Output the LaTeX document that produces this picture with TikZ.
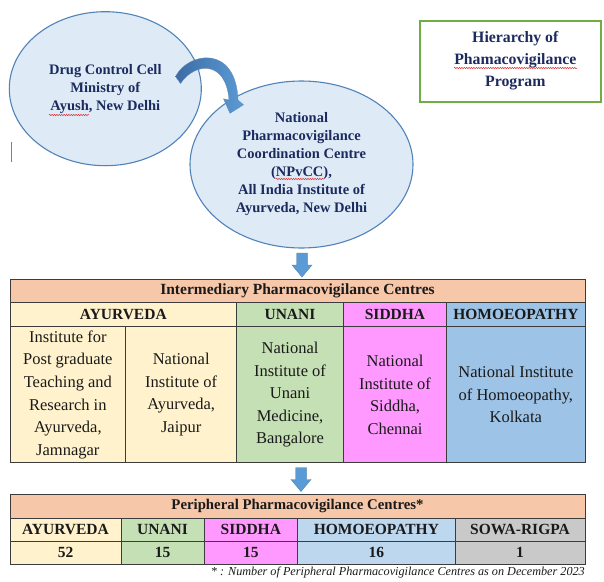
\documentclass[tikz,border=0pt]{standalone}
\usepackage{fontspec}
\setmainfont{Liberation Serif}
\usetikzlibrary{shapes.geometric,decorations.pathmorphing,calc}
\definecolor{ellfill}{HTML}{DEEBF7}
\definecolor{elldraw}{HTML}{5283B8}
\definecolor{navy}{HTML}{1C2A5E}
\definecolor{arrowblue}{HTML}{5B9BD5}
\definecolor{arrowdark}{HTML}{3D6CA3}
\definecolor{peach}{HTML}{F6C7A9}
\definecolor{ayur}{HTML}{FFF2CC}
\definecolor{unani}{HTML}{C5E0B4}
\definecolor{siddha}{HTML}{FF99FF}
\definecolor{homoeo}{HTML}{9DC3E6}
\definecolor{homoeolight}{HTML}{BDD7EE}
\definecolor{sowa}{HTML}{C9C9C9}
\definecolor{gridc}{HTML}{3C3C3C}
\definecolor{txt}{HTML}{1A1A1A}
\definecolor{titlegreen}{HTML}{70AD47}
\definecolor{squig}{HTML}{E03030}
\begin{document}
\begin{tikzpicture}[x=1pt,y=-1pt,
  oval/.style={ellipse, draw=elldraw, line width=1.1pt, fill=ellfill, inner sep=0pt,
    align=center, text=navy, font=\bfseries\fontsize{14.5}{18}\selectfont},
  cell/.style={draw=gridc, line width=0.8pt, inner sep=0pt, align=center, text=txt},
  headfont/.style={font=\bfseries\fontsize{15.5}{16}\selectfont},
  bodyfont/.style={font=\fontsize{16.5}{22.6}\selectfont},
  spell/.style={squig, line width=0.5pt, decorate, decoration={snake, amplitude=0.7pt, segment length=2.4pt}},
  downarr/.pic={\fill[arrowblue, draw=arrowblue!85!black, line width=0.4pt]
    (-5.3,-12) -- (5.3,-12) -- (5.3,0) -- (10,0) -- (0,12) -- (-10,0) -- (-5.3,0) -- cycle;}
]
\useasboundingbox (0,0) rectangle (604,581);

% title box
\node[draw=titlegreen, line width=2.5pt, minimum width=181, minimum height=81, inner sep=0pt] (titlebox) at (510.5,61.5) {};
\node[inner sep=0pt, align=center, text=navy, font=\bfseries\fontsize{15.8}{22}\selectfont] (title) at (515.3,60.5)
  {Hierarchy of\\Phamacovigilance\\Program};

% cursor mark
\draw[gray, line width=0.8pt] (11,142) -- (11,162);

% ellipses
\node[oval, minimum width=192, minimum height=154] (dcc) at (105.3,88.7)
  {Drug Control Cell\\Ministry of\\Ayush, New Delhi};
\node[oval, minimum width=223, minimum height=167] (npvcc) at (301.5,164.5)
  {National\\Pharmacovigilance\\Coordination Centre\\(NPvCC),\\All India Institute of\\Ayurveda, New Delhi};

% spell-check marks
\draw[spell] (49,115) -- (89,115);
\draw[spell] (276,179) -- (324,179);
\draw[spell] (454,68) -- (577,68);

% curved arrow
\shade[left color=arrowdark, right color=arrowblue, draw=arrowdark!80, line width=0.3pt]
  (175.5,76.5) .. controls (188,52) and (236,44) .. (238,100)
  -- (243.5,104.8) -- (230,113.3) -- (223.5,98.8) -- (229,100)
  .. controls (226,60) and (195,62) .. (180.5,83.5) -- cycle;

% table 1
\node[cell, fill=peach, headfont, minimum width=575, minimum height=23.4] (t1head) at (297.5,291)
  {Intermediary Pharmacovigilance Centres};
\node[cell, fill=ayur, headfont, minimum width=226.7, minimum height=24] (t1ayur) at (123.35,314.7) {AYURVEDA};
\node[cell, fill=unani, headfont, minimum width=106.6, minimum height=24] (t1unani) at (290,314.7) {UNANI};
\node[cell, fill=siddha, headfont, minimum width=103.4, minimum height=24] (t1siddha) at (395,314.7) {SIDDHA};
\node[cell, fill=homoeo, headfont, minimum width=138.3, minimum height=24] (t1homoeo) at (515.85,314.7) {HOMOEOPATHY};
\node[cell, fill=ayur, bodyfont, minimum width=115.7, minimum height=136] (ipgt) at (67.85,394.7)
  {Institute for\\Post graduate\\Teaching and\\Research in\\Ayurveda,\\Jamnagar};
\node[cell, fill=ayur, bodyfont, minimum width=111, minimum height=136] (nia) at (181.2,394.7)
  {National\\Institute of\\Ayurveda,\\Jaipur};
\node[cell, fill=unani, bodyfont, minimum width=106.6, minimum height=136] (nium) at (290,394.7)
  {National\\Institute of\\Unani\\Medicine,\\Bangalore};
\node[cell, fill=siddha, bodyfont, minimum width=103.4, minimum height=136] (nis) at (395,394.7)
  {National\\Institute of\\Siddha,\\Chennai};
\node[cell, fill=homoeo, bodyfont, minimum width=138.3, minimum height=136] (nih) at (515.85,394.7)
  {National Institute\\of Homoeopathy,\\Kolkata};

% table 2
\node[cell, fill=peach, font=\bfseries\fontsize{14.8}{16}\selectfont, minimum width=575, minimum height=24] (t2head) at (297.5,506.3)
  {Peripheral Pharmacovigilance Centres*};
\node[cell, fill=ayur, headfont, minimum width=111, minimum height=22.7] (t2ayur) at (65.5,529.65) {AYURVEDA};
\node[cell, fill=unani, headfont, minimum width=83, minimum height=22.7] (t2unani) at (162.5,529.65) {UNANI};
\node[cell, fill=siddha, headfont, minimum width=93.7, minimum height=22.7] (t2siddha) at (250.85,529.65) {SIDDHA};
\node[cell, fill=homoeolight, headfont, minimum width=157.3, minimum height=22.7] (t2homoeo) at (376.35,529.65) {HOMOEOPATHY};
\node[cell, fill=sowa, headfont, minimum width=130, minimum height=22.7] (t2sowa) at (520,529.65) {SOWA-RIGPA};
\node[cell, fill=ayur, headfont, minimum width=111, minimum height=23.3] (n1) at (65.5,552.65) {52};
\node[cell, fill=unani, headfont, minimum width=83, minimum height=23.3] (n2) at (162.5,552.65) {15};
\node[cell, fill=siddha, headfont, minimum width=93.7, minimum height=23.3] (n3) at (250.85,552.65) {15};
\node[cell, fill=homoeolight, headfont, minimum width=157.3, minimum height=23.3] (n4) at (376.35,552.65) {16};
\node[cell, fill=sowa, headfont, minimum width=130, minimum height=23.3] (n5) at (520,552.65) {1};

% down arrows
\pic at (302,265) {downarr};
\pic at (301,479.5) {downarr};

% footnote
\node[anchor=base east, inner sep=0pt, text=txt, font=\itshape\fontsize{12.2}{14}\selectfont] (fn) at (585,575)
  {* : Number of Peripheral Pharmacovigilance Centres as on December 2023};
\end{tikzpicture}
\end{document}
